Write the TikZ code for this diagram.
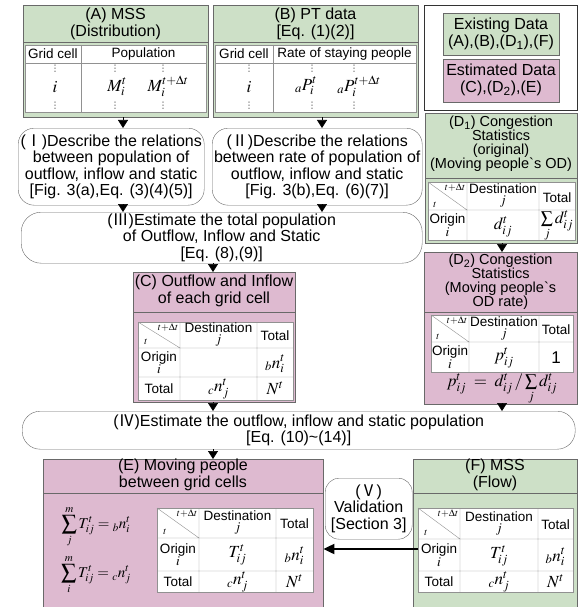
\documentclass[tikz,border=0pt]{standalone}
\usepackage{mathptmx}
\usepackage{fontspec}
\setmainfont{Liberation Sans}
\newfontfamily\cjk{Noto Sans CJK JP}
\newfontfamily\dotfont{DejaVu Sans}
\usetikzlibrary{arrows.meta}

\definecolor{exgreen}{RGB}{205,224,199}
\definecolor{espink}{RGB}{222,186,208}
\definecolor{edgegray}{RGB}{105,105,105}
\definecolor{cellgray}{RGB}{145,145,145}

\newcommand{\stepno}[1]{({\cjk #1})}

\tikzset{
  exist/.style={draw=edgegray, fill=exgreen, anchor=north west, inner sep=0pt},
  estim/.style={draw=edgegray, fill=espink, anchor=north west, inner sep=0pt},
  procbox/.style={draw=edgegray, fill=white, rounded corners=16pt, anchor=north west,
    inner sep=0pt, align=center, font=\fontsize{16}{16.5}\selectfont},
  boxtitle/.style={align=center, inner sep=0pt, font=\fontsize{16}{17}\selectfont},
  dtitle/.style={align=center, inner sep=0pt, font=\fontsize{14.5}{14}\selectfont},
  tabframe/.style={draw=cellgray, fill=white},
  cell/.style={align=center, inner sep=0pt, font=\fontsize{13.5}{11}\selectfont},
  mcell/.style={inner sep=0pt, font=\fontsize{17}{17}\selectfont},
  sumcell/.style={inner sep=0pt, font=\fontsize{15}{15}\selectfont},
  dotcell/.style={inner sep=0pt, text=black!75, font=\dotfont\fontsize{9}{9}\selectfont},
  diaglabel/.style={inner sep=0.5pt, font=\fontsize{10}{10}\selectfont},
  flow/.style={draw=black, line width=0.6pt, -{Triangle[length=8pt,width=10pt]}},
  bigflow/.style={draw=black, line width=2pt, -{Triangle[length=11pt,width=10pt]}}
}

\begin{document}
\begin{tikzpicture}[x=1pt, y=-1pt]
  \useasboundingbox (0,0) rectangle (578,607);

  % where the arrows run
  \coordinate (xa) at (123,0);
  \coordinate (xb) at (322,0);
  \coordinate (xc) at (213,0);
  \coordinate (xd) at (502,0);
  \coordinate (fIn) at (418,549);

  % (A) MSS distribution
  \node[exist, minimum width=185pt, minimum height=112pt] (boxA) at (23,5) {};
  \draw[edgegray] (23,42) -- (208,42);
  \node[boxtitle] (titleA) at (115.5,23.5) {(A) MSS\\(Distribution)};
  \draw[tabframe] (25,45) rectangle (206,112);
  \draw[cellgray] (25,63) -- (206,63) (81,45) -- (81,112);
  \node[cell] (aGrid) at (53,54) {Grid cell};
  \node[cell] (aPop) at (143.5,54) {Population};
  \node[mcell] (aI) at (55,87) {$i$};
  \node[mcell] (aM1) at (117,87) {$M_i^t$};
  \node[mcell] (aM2) at (168,86) {$M_i^{t+\Delta t}$};
  \node[dotcell] (aDot1) at (55,69) {⋮};
  \node[dotcell] (aDot2) at (115,69) {⋮};
  \node[dotcell] (aDot3) at (163,69) {⋮};
  \node[dotcell] (aDot4) at (55,106) {⋮};
  \node[dotcell] (aDot5) at (115,106) {⋮};
  \node[dotcell] (aDot6) at (163,106) {⋮};

  % (B) PT data
  \node[exist, minimum width=205pt, minimum height=112pt] (boxB) at (213,5) {};
  \draw[edgegray] (213,42) -- (418,42);
  \node[boxtitle] (titleB) at (315.5,23.5) {(B) PT data\\{[}Eq. (1)(2)]};
  \draw[tabframe] (215,45) rectangle (416,112);
  \draw[cellgray] (215,63) -- (416,63) (273,45) -- (273,112);
  \node[cell] (bGrid) at (244,54) {Grid cell};
  \node[cell] (bRate) at (344.5,54) {Rate of staying people};
  \node[mcell] (bI) at (249,87) {$i$};
  \node[mcell] (bP1) at (306,86) {${}_aP_i^t$};
  \node[mcell] (bP2) at (359,86) {${}_aP_i^{t+\Delta t}$};
  \node[dotcell] (bDot1) at (249,69) {⋮};
  \node[dotcell] (bDot2) at (312,69) {⋮};
  \node[dotcell] (bDot3) at (354,69) {⋮};
  \node[dotcell] (bDot4) at (249,106) {⋮};
  \node[dotcell] (bDot5) at (312,106) {⋮};
  \node[dotcell] (bDot6) at (354,106) {⋮};

  % legend
  \node[draw=black!80, line width=1.2pt, minimum width=153pt, minimum height=105pt,
    anchor=north west, inner sep=0pt] (legend) at (424,5) {};
  \node[exist, minimum width=116pt, minimum height=42pt] (legEx) at (443,13) {};
  \node[boxtitle] (legExT) at (501,34) {Existing Data\\(A),(B),(D\textsubscript{1}),(F)};
  \node[estim, minimum width=116pt, minimum height=43pt] (legEs) at (443,59) {};
  \node[boxtitle] (legEsT) at (501,80) {Estimated Data\\(C),(D\textsubscript{2}),(E)};

  % steps I, II, III
  \node[procbox, minimum width=186pt, minimum height=77pt] (procI) at (18,128)
    {\stepno{Ⅰ}Describe the relations\\between population of\\outflow, inflow and static\\{[}Fig. 3(a),Eq. (3)(4)(5)]};
  \node[procbox, minimum width=210pt, minimum height=77pt] (procII) at (212,128)
    {\stepno{Ⅱ}Describe the relations\\between rate of population of\\outflow, inflow and static\\{[}Fig. 3(b),Eq. (6)(7)]};
  \node[procbox, rounded corners=20pt, minimum width=401pt, minimum height=51pt] (procIII) at (21,212)
    {\stepno{Ⅲ}Estimate the total population\\of Outflow, Inflow and Static\\{[}Eq. (8),(9)]};

  % (C) outflow and inflow
  \node[estim, minimum width=162pt, minimum height=130pt] (boxC) at (133,272) {};
  \draw[edgegray] (133,312) -- (295,312);
  \node[boxtitle] (titleC) at (214,291) {(C) Outflow and Inflow\\of each grid cell};
  \draw[tabframe] (138,322) rectangle (293,400);
  \draw[cellgray] (138,348) -- (293,348) (138,377) -- (293,377)
    (180,322) -- (180,400) (257,322) -- (257,400) (138,322) -- (180,348);
  \node[diaglabel, anchor=north east] (cDt) at (179,323) {$t{+}\Delta t$};
  \node[diaglabel] (cT) at (146,342) {$t$};
  \node[cell] (cDest) at (218.5,335) {Destination\\$j$};
  \node[cell] (cTotH) at (275,336) {Total};
  \node[cell] (cOrig) at (159,362.5) {Origin\\$i$};
  \node[mcell] (cBn) at (275,364) {${}_b n_i^t$};
  \node[cell] (cTotR) at (159,388.5) {Total};
  \node[mcell] (cCn) at (218.5,389) {${}_c n_j^t$};
  \node[mcell] (cN) at (275,388.5) {$N^t$};

  % (D1) congestion statistics
  \node[exist, minimum width=152pt, minimum height=130pt] (boxD1) at (425,113) {};
  \draw[edgegray] (425,178) -- (577,178);
  \node[dtitle] (titleD1) at (501,144) {(D\textsubscript{1}) Congestion\\Statistics\\(original)\\(Moving people\textasciigrave s OD)};
  \draw[tabframe] (428,182) rectangle (575,240);
  \draw[cellgray] (428,210) -- (575,210) (467,182) -- (467,240)
    (539,182) -- (539,240) (428,182) -- (467,210);
  \node[diaglabel, anchor=north east] (d1Dt) at (466,183) {$t{+}\Delta t$};
  \node[diaglabel] (d1T) at (435,205) {$t$};
  \node[cell] (d1Dest) at (503,196) {Destination\\$j$};
  \node[cell] (d1TotH) at (557,198) {Total};
  \node[cell] (d1Orig) at (447.5,225) {Origin\\$i$};
  \node[mcell] (d1D) at (503,227) {$d_{ij}^t$};
  \node[mcell] (d1Sum) at (557,226) {$\sum\limits_j d_{ij}^t$};

  % (D2) congestion statistics, rate
  \node[estim, minimum width=153pt, minimum height=152pt] (boxD2) at (424,252) {};
  \draw[edgegray] (424,312) -- (577,312);
  \node[dtitle] (titleD2) at (500.5,282) {(D\textsubscript{2}) Congestion\\Statistics\\(Moving people\textasciigrave s\\OD rate)};
  \draw[tabframe] (431,315) rectangle (573,372);
  \draw[cellgray] (431,342) -- (573,342) (469,315) -- (469,372)
    (539,315) -- (539,372) (431,315) -- (469,342);
  \node[diaglabel, anchor=north east] (d2Dt) at (468,316) {$t{+}\Delta t$};
  \node[diaglabel] (d2T) at (438,337) {$t$};
  \node[cell] (d2Dest) at (504,328.5) {Destination\\$j$};
  \node[cell] (d2TotH) at (556,330) {Total};
  \node[cell] (d2Orig) at (450,357) {Origin\\$i$};
  \node[mcell] (d2P) at (504,358) {$p_{ij}^t$};
  \node[mcell] (d2One) at (556,358) {1};
  \node[mcell] (d2Eq) at (502,389) {$p_{ij}^t \;=\; d_{ij}^t \,/ \sum\limits_j d_{ij}^t$};

  % step IV
  \node[procbox, rounded corners=18pt, minimum width=553pt, minimum height=38pt] (procIV) at (22,411)
    {\stepno{Ⅳ}Estimate the outflow, inflow and static population\\{[}Eq. (10)\textasciitilde(14)]};

  % (E) moving people
  \node[estim, minimum width=280pt, minimum height=160pt] (boxE) at (43,459) {};
  \draw[edgegray] (43,493) -- (323,493);
  \node[boxtitle] (titleE) at (183,475) {(E) Moving people\\between grid cells};
  \node[sumcell] (eSum1) at (96,527) {$\displaystyle\sum_j^m T_{ij}^t = {}_b n_i^t$};
  \node[sumcell] (eSum2) at (96,575) {$\displaystyle\sum_i^m T_{ij}^t = {}_c n_j^t$};
  \draw[tabframe] (157,508) rectangle (313,592);
  \draw[cellgray] (157,538) -- (313,538) (157,571) -- (313,571)
    (199,508) -- (199,592) (276,508) -- (276,592) (157,508) -- (199,538);
  \node[diaglabel, anchor=north east] (eDt) at (198,509) {$t{+}\Delta t$};
  \node[diaglabel] (eT) at (165,532) {$t$};
  \node[cell] (eDest) at (237.5,523) {Destination\\$j$};
  \node[cell] (eTotH) at (294.5,524) {Total};
  \node[cell] (eOrig) at (178,554.5) {Origin\\$i$};
  \node[mcell] (eT2) at (237.5,555) {$T_{ij}^t$};
  \node[mcell] (eBn) at (294.5,556) {${}_b n_i^t$};
  \node[cell] (eTotR) at (178,581.5) {Total};
  \node[mcell] (eCn) at (237.5,582) {${}_c n_j^t$};
  \node[mcell] (eN) at (294.5,581.5) {$N^t$};

  % step V
  \node[procbox, rounded corners=14pt, minimum width=87pt, minimum height=61pt] (procV) at (325,478)
    {\stepno{Ⅴ}\\Validation\\{[}Section 3]};

  % (F) MSS flow
  \node[exist, minimum width=164pt, minimum height=160pt] (boxF) at (413,459) {};
  \draw[edgegray] (413,493) -- (577,493);
  \node[boxtitle] (titleF) at (495,475) {(F) MSS\\(Flow)};
  \draw[tabframe] (418,508) rectangle (573,592);
  \draw[cellgray] (418,539) -- (573,539) (418,571) -- (573,571)
    (460,508) -- (460,592) (538,508) -- (538,592) (418,508) -- (460,539);
  \node[diaglabel, anchor=north east] (fDt) at (459,509) {$t{+}\Delta t$};
  \node[diaglabel] (fT) at (426,533) {$t$};
  \node[cell] (fDest) at (499,523.5) {Destination\\$j$};
  \node[cell] (fTotH) at (555.5,525) {Total};
  \node[cell] (fOrig) at (439,555) {Origin\\$i$};
  \node[mcell] (fT2) at (499,556) {$T_{ij}^t$};
  \node[mcell] (fBn) at (555.5,557) {${}_b n_i^t$};
  \node[cell] (fTotR) at (439,581.5) {Total};
  \node[mcell] (fCn) at (499,582) {${}_c n_j^t$};
  \node[mcell] (fN) at (555.5,581.5) {$N^t$};

  % arrows
  \draw[flow] (boxA.south -| xa) -- (procI.north -| xa);
  \draw[flow] (boxB.south -| xb) -- (procII.north -| xb);
  \draw[flow] (procI.south -| xa) -- (procIII.north -| xa);
  \draw[flow] (procII.south -| xb) -- (procIII.north -| xb);
  \draw[flow] (procIII.south -| xc) -- (boxC.north -| xc);
  \draw[flow] (boxC.south -| xc) -- (procIV.north -| xc);
  \draw[flow] (boxD1.south -| xd) -- (boxD2.north -| xd);
  \draw[flow] (boxD2.south -| xd) -- (procIV.north -| xd);
  \draw[flow] (procIV.south -| xc) -- (boxE.north -| xc);
  \draw[bigflow] (fIn) -- (boxE.east |- fIn);
\end{tikzpicture}
\end{document}
